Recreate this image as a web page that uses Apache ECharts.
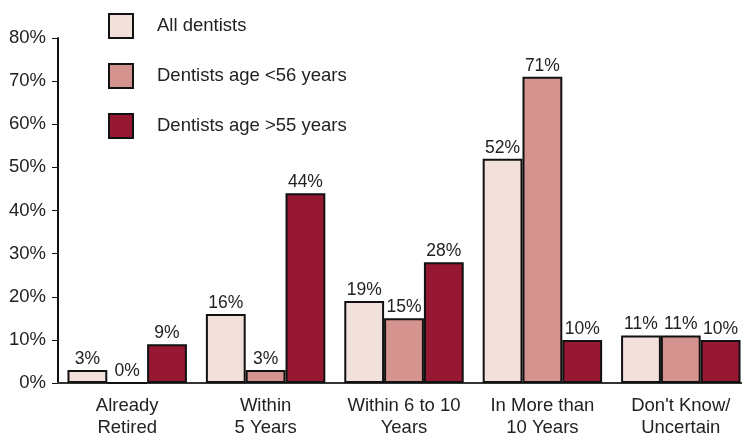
<!DOCTYPE html>
<html><head><meta charset="utf-8">
<script src="https://cdn.jsdelivr.net/npm/echarts@6/dist/echarts.min.js"></script>
<style>html,body{margin:0;padding:0;background:#fff}#c{width:746px;height:435px}</style>
</head><body><div id="c"></div>
<script>
const categories = ["Already\nRetired", "Within\n5 Years", "Within 6 to 10\nYears", "In More than\n10 Years", "Don't Know/\nUncertain"];
const seriesNames = ["All dentists", "Dentists age <56 years", "Dentists age >55 years"];
const allDentists = [3, 16, 19, 52, 11];
const under56 = [0, 3, 15, 71, 11];
const over55 = [9, 44, 28, 10, 10];
const colors = ["#F2E0DB", "#D4938E", "#951732"];
const values = [allDentists, under56, over55];
const font = "Liberation Sans, Arial, sans-serif";
const chart = echarts.init(document.getElementById('c'));
chart.setOption({
  animation: false,
  grid: {left: 58, right: -4, top: 38, bottom: 52, outerBoundsMode: 'none', containLabel: false},
  legend: {
    orient: 'vertical', left: 108, top: 13, padding: 0, itemWidth: 24, itemHeight: 24, itemGap: 24,
    icon: 'rect',
    textStyle: {fontFamily: font, fontSize: 18.5, lineHeight: 20, color: '#222', padding: [0, 0, 0, 19]},
    data: seriesNames
  },
  xAxis: {
    type: 'category', data: categories,
    axisLine: {show: false},
    axisTick: {show: false},
    axisLabel: {interval: 0, fontFamily: font, fontSize: 18.5, color: '#222', margin: 12, lineHeight: 22}
  },
  yAxis: {
    type: 'value', min: 0, max: 80, interval: 10,
    axisLine: {show: true, lineStyle: {color: '#111', width: 2}},
    axisTick: {show: true, length: 6, lineStyle: {color: '#111', width: 1}},
    splitLine: {show: false},
    axisLabel: {fontFamily: font, fontSize: 18.5, color: '#222', formatter: '{value}%', margin: 12}
  },
  series: values.map((v, i) => ({
    name: seriesNames[i], type: 'bar', data: v,
    barGap: '0%', barCategoryGap: '13.7%',
    itemStyle: {color: colors[i], borderColor: '#111', borderWidth: 2},
    label: {show: true, position: 'top', formatter: '{c}%', fontFamily: font, fontSize: 17.5, color: '#222', distance: 2}
  }))
});
// baseline (x axis line) ending slightly before the canvas edge, as in the reference
const y0 = chart.convertToPixel({yAxisIndex: 0}, 0);
chart.setOption({
  graphic: [{type: 'line', z: 1, shape: {x1: 57, y1: y0, x2: 742, y2: y0}, style: {stroke: '#333', lineWidth: 2}}]
});
</script></body></html>
